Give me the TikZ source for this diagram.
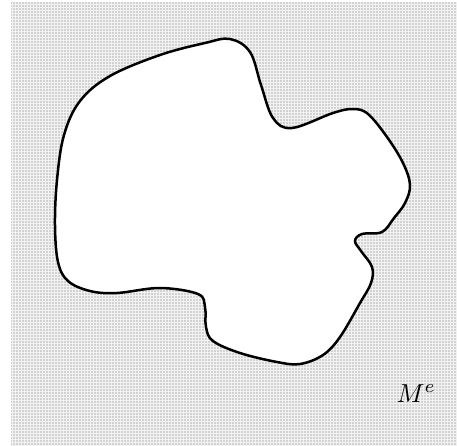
\documentclass[tikz,border=0pt]{standalone}
\usepackage{xcolor}
\usepackage{tikz}
\usetikzlibrary{patterns}
\definecolor{meshgray}{HTML}{D2D2D2}

\begin{document}
\begin{tikzpicture}[x=1pt, y=-1pt]
    \useasboundingbox (0,0) rectangle (457,445);
    % outer region
    \fill[meshgray] (11,2) rectangle (457,445);
    \fill[pattern=grid, pattern color=white!70!meshgray] (11,2) rectangle (457,445);
    % the body
    \draw[line width=2.5pt, fill=white] plot[smooth cycle, tension=0.6] coordinates {
      (57,180) (64,135) (80,101) (110,76) (160,55) (205,43) (230,39)
      (250,52) (261,85) (273,118) (292,128) (333,113) (353,109)
      (368,114) (387,137) (403,163) (410,185) (405,203) (394,218)
      (382,232) (362,234) (355,241) (361,251) (372,267) (371,283) (360,303)
      (340,337) (323,355) (300,364) (277,362) (240,353) (213,341) (206,327)
      (205,307) (198,294) (160,288) (117,293) (90,291) (68,281)
      (58,262) (55,225)};
    \node[anchor=base west, inner sep=0pt, scale=2.6] (me) at (396,402) {$M^e$};
  \end{tikzpicture}
\end{document}
